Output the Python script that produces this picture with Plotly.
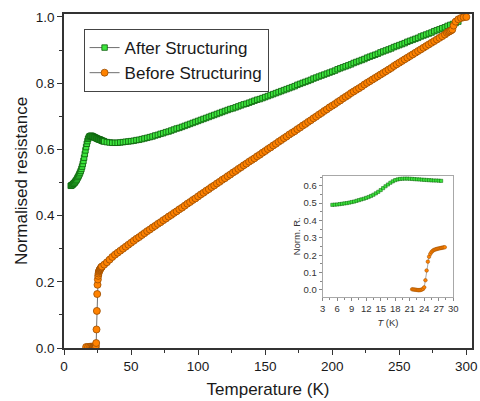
import plotly.graph_objects as go

# ---------------- data ----------------
# After Structuring: dense low-temperature part
after_T_low = [5.0, 5.5, 6.0, 6.5, 7.0, 7.5, 8.0, 8.5, 9.0, 9.5, 10.0, 10.5, 11.0, 11.5,
               12.0, 12.5, 13.0, 13.5, 14.0, 14.5, 15.0, 15.5, 16.0, 16.5, 17.0, 17.5,
               18.0, 18.5, 19.0, 19.5, 20.0, 20.5, 21.0, 21.5, 22.0, 22.5, 23.0, 23.5,
               24.0, 24.5, 25.0, 25.5, 26.0, 26.5, 27.0, 27.5, 28.0, 28.5, 29.0, 29.5]
after_R_low = [0.490, 0.491, 0.492, 0.494, 0.496, 0.498, 0.500, 0.503, 0.506, 0.509,
               0.513, 0.517, 0.521, 0.525, 0.530, 0.535, 0.541, 0.548, 0.556, 0.565,
               0.575, 0.586, 0.597, 0.607, 0.617, 0.625, 0.632, 0.636, 0.639, 0.640,
               0.641, 0.641, 0.640, 0.639, 0.638, 0.637, 0.636, 0.635, 0.634, 0.633,
               0.632, 0.631, 0.630, 0.630, 0.629, 0.628, 0.627, 0.626, 0.625, 0.625]
# After Structuring: 30 K - 294 K
after_T_high = [30, 32, 34, 36, 38, 40, 42, 44, 46, 48, 50, 52, 54, 56, 58, 60, 62, 64, 66, 68,
                70, 72, 74, 76, 78, 80, 82, 84, 86, 88, 90, 92, 94, 96, 98, 100, 102, 104, 106,
                108, 110, 112, 114, 116, 118, 120, 122, 124, 126, 128, 130, 132, 134, 136, 138,
                140, 142, 144, 146, 148, 150, 152, 154, 156, 158, 160, 162, 164, 166, 168, 170,
                172, 174, 176, 178, 180, 182, 184, 186, 188, 190, 192, 194, 196, 198, 200, 202,
                204, 206, 208, 210, 212, 214, 216, 218, 220, 222, 224, 226, 228, 230, 232, 234,
                236, 238, 240, 242, 244, 246, 248, 250, 252, 254, 256, 258, 260, 262, 264, 266,
                268, 270, 272, 274, 276, 278, 280, 282, 284, 286, 288, 290, 292, 294]
after_R_high = [0.624, 0.622, 0.621, 0.620, 0.620, 0.620, 0.621, 0.622, 0.623, 0.624,
                0.625, 0.626, 0.628, 0.629, 0.631, 0.633, 0.635, 0.637, 0.639, 0.642,
                0.644, 0.647, 0.649, 0.652, 0.654, 0.657, 0.660, 0.663, 0.665, 0.668,
                0.671, 0.674, 0.677, 0.680, 0.683, 0.686, 0.689, 0.692, 0.695, 0.698,
                0.701, 0.704, 0.707, 0.710, 0.713, 0.716, 0.719, 0.722, 0.724, 0.727,
                0.730, 0.733, 0.736, 0.738, 0.741, 0.744, 0.747, 0.750, 0.752, 0.755,
                0.758, 0.761, 0.764, 0.767, 0.770, 0.773, 0.776, 0.779, 0.782, 0.785,
                0.788, 0.791, 0.795, 0.798, 0.801, 0.804, 0.807, 0.810, 0.814, 0.817,
                0.820, 0.823, 0.826, 0.829, 0.832, 0.835, 0.838, 0.842, 0.845, 0.848,
                0.851, 0.854, 0.857, 0.861, 0.864, 0.867, 0.870, 0.873, 0.877, 0.880,
                0.883, 0.886, 0.889, 0.893, 0.896, 0.899, 0.902, 0.905, 0.909, 0.912,
                0.915, 0.918, 0.921, 0.925, 0.928, 0.931, 0.934, 0.937, 0.941, 0.944,
                0.947, 0.950, 0.953, 0.957, 0.960, 0.963, 0.966, 0.969, 0.973, 0.976,
                0.979, 0.982, 0.986]

# Before Structuring: low temperature (transition)
before_T_low = [16.5, 18.0, 19.5, 20.5, 21.5, 21.75, 22.0, 22.25, 22.5, 22.75, 23.0, 23.25,
                23.5, 23.75, 24.0, 24.25, 24.5, 24.75, 25.0, 25.25, 25.5, 25.75, 26.0,
                26.25, 26.5, 26.75, 27.0, 27.25, 27.5, 27.75, 28.0, 28.25]
before_R_low = [0.003, 0.003, 0.004, 0.004, 0.004, 0.003, 0.002, 0.001, 0.000, -0.001,
                -0.001, 0.000, 0.002, 0.006, 0.015, 0.056, 0.112, 0.163, 0.191, 0.207,
                0.218, 0.225, 0.230, 0.233, 0.235, 0.237, 0.239, 0.240, 0.242, 0.243,
                0.245, 0.246]
# Before Structuring: 30 K - 300 K
before_T_high = [30, 32, 34, 36, 38, 40, 42, 44, 46, 48, 50, 52, 54, 56, 58, 60, 62, 64, 66, 68,
                 70, 72, 74, 76, 78, 80, 82, 84, 86, 88, 90, 92, 94, 96, 98, 100, 102, 104, 106,
                 108, 110, 112, 114, 116, 118, 120, 122, 124, 126, 128, 130, 132, 134, 136, 138,
                 140, 142, 144, 146, 148, 150, 152, 154, 156, 158, 160, 162, 164, 166, 168, 170,
                 172, 174, 176, 178, 180, 182, 184, 186, 188, 190, 192, 194, 196, 198, 200, 202,
                 204, 206, 208, 210, 212, 214, 216, 218, 220, 222, 224, 226, 228, 230, 232, 234,
                 236, 238, 240, 242, 244, 246, 248, 250, 252, 254, 256, 258, 260, 262, 264, 266,
                 268, 270, 272, 274, 276, 278, 280, 282, 284, 285.5, 286.5, 287.5, 288.5, 289.5,
                 290.5, 292, 294, 296, 298, 300]
before_R_high = [0.252, 0.259, 0.267, 0.275, 0.282, 0.288, 0.294, 0.300, 0.306, 0.312,
                 0.318, 0.324, 0.330, 0.335, 0.341, 0.347, 0.353, 0.358, 0.364, 0.369,
                 0.375, 0.380, 0.386, 0.391, 0.397, 0.402, 0.408, 0.413, 0.419, 0.424,
                 0.430, 0.436, 0.441, 0.447, 0.452, 0.458, 0.464, 0.469, 0.475, 0.480,
                 0.486, 0.491, 0.497, 0.502, 0.508, 0.513, 0.519, 0.524, 0.530, 0.535,
                 0.541, 0.546, 0.552, 0.557, 0.563, 0.568, 0.573, 0.579, 0.584, 0.590,
                 0.595, 0.601, 0.606, 0.612, 0.617, 0.623, 0.628, 0.634, 0.639, 0.645,
                 0.650, 0.655, 0.661, 0.666, 0.672, 0.677, 0.683, 0.688, 0.694, 0.699,
                 0.705, 0.710, 0.716, 0.721, 0.727, 0.732, 0.737, 0.743, 0.748, 0.754,
                 0.759, 0.764, 0.770, 0.775, 0.780, 0.785, 0.790, 0.796, 0.801, 0.806,
                 0.811, 0.816, 0.821, 0.826, 0.831, 0.836, 0.841, 0.846, 0.852, 0.857,
                 0.862, 0.867, 0.872, 0.877, 0.882, 0.887, 0.892, 0.897, 0.902, 0.907,
                 0.912, 0.917, 0.922, 0.927, 0.932, 0.937, 0.942, 0.947, 0.952, 0.955,
                 0.957, 0.959, 0.962, 0.974, 0.986, 0.993, 0.997, 0.999, 1.000]

after_T = after_T_low + after_T_high
after_R = after_R_low + after_R_high
before_T = before_T_low + before_T_high
before_R = before_R_low + before_R_high

# inset subsets
inset_after = [(t, r) for t, r in zip(after_T_low, after_R_low) if t <= 27.6]
inset_before = [(t, r) for t, r in zip(before_T_low, before_R_low) if t >= 21.5]

x_ticks = [0, 50, 100, 150, 200, 250, 300]
y_ticks = [0.0, 0.2, 0.4, 0.6, 0.8, 1.0]
inset_x_ticks = [3, 6, 9, 12, 15, 18, 21, 24, 27, 30]
inset_y_ticks = [0.0, 0.1, 0.2, 0.3, 0.4, 0.5, 0.6]

GREEN_FILL = "#3ee63e"
GREEN_EDGE = "#0b5e0b"
ORANGE_FILL = "#ff8200"
ORANGE_EDGE = "#9a4c00"
LINE_GREY = "#6e6e6e"
FONT = "Liberation Sans, Arial, sans-serif"

fig = go.Figure()
fig.add_trace(go.Scatter(
    x=after_T, y=after_R, mode="lines+markers", name="After Structuring",
    line=dict(color=LINE_GREY, width=1),
    marker=dict(symbol="square", size=5.5, color=GREEN_FILL,
                line=dict(color=GREEN_EDGE, width=0.8)),
))
fig.add_trace(go.Scatter(
    x=before_T, y=before_R, mode="lines+markers", name="Before Structuring",
    line=dict(color=LINE_GREY, width=1),
    marker=dict(symbol="circle", size=7, color=ORANGE_FILL,
                line=dict(color=ORANGE_EDGE, width=0.8)),
))
# inset traces
fig.add_trace(go.Scatter(
    x=[p[0] for p in inset_after], y=[p[1] for p in inset_after], mode="lines+markers",
    xaxis="x2", yaxis="y2", showlegend=False,
    line=dict(color=LINE_GREY, width=0.6),
    marker=dict(symbol="square", size=3.2, color=GREEN_FILL,
                line=dict(color=GREEN_EDGE, width=0.5)),
))
fig.add_trace(go.Scatter(
    x=[p[0] for p in inset_before], y=[p[1] for p in inset_before], mode="lines+markers",
    xaxis="x2", yaxis="y2", showlegend=False,
    line=dict(color=LINE_GREY, width=0.6),
    marker=dict(symbol="circle", size=3.6, color=ORANGE_FILL,
                line=dict(color=ORANGE_EDGE, width=0.5)),
))

axis_common = dict(showline=True, mirror=True, linecolor="#333333", linewidth=1.5,
                   ticks="outside", ticklen=5, tickwidth=1.3, tickcolor="#333333",
                   showgrid=False, zeroline=False,
                   tickfont=dict(family=FONT, size=13.5, color="#1a1a1a"))

fig.update_layout(
    width=480, height=401,
    margin=dict(l=64, r=3, t=14, b=53),
    paper_bgcolor="white", plot_bgcolor="white",
    font=dict(family=FONT, color="#1a1a1a"),
    xaxis=dict(range=[0, 304.2], tickvals=x_ticks,
               minor=dict(ticks="outside", ticklen=3, tickwidth=1, tickcolor="#333333", dtick=25, tick0=0),
               title=dict(text="Temperature (K)", font=dict(family=FONT, size=17), standoff=10),
               **axis_common),
    yaxis=dict(range=[0, 1.009], tickvals=y_ticks, tickformat=".1f",
               minor=dict(ticks="outside", ticklen=3, tickwidth=1, tickcolor="#333333", dtick=0.1, tick0=0),
               title=dict(text="Normalised resistance", font=dict(family=FONT, size=17), standoff=4),
               **axis_common),
    xaxis2=dict(domain=[0.634, 0.954], anchor="y2", range=[3, 30], tickvals=inset_x_ticks,
                showline=True, mirror=True, linecolor="#a8a8a8", linewidth=1,
                ticks="outside", ticklen=3, tickwidth=1, tickcolor="#888888",
                minor=dict(ticks="outside", ticklen=2, tickcolor="#888888", dtick=1.5, tick0=0),
                showgrid=False, zeroline=False,
                tickfont=dict(family=FONT, size=9.5, color="#333333"),
                title=dict(text="<i>T</i> (K)", font=dict(family=FONT, size=9.5, color="#333333"), standoff=6)),
    yaxis2=dict(domain=[0.154, 0.515], anchor="x2", range=[-0.038, 0.656], tickvals=inset_y_ticks,
                tickformat=".1f",
                showline=True, mirror=True, linecolor="#a8a8a8", linewidth=1,
                ticks="outside", ticklen=3, tickwidth=1, tickcolor="#888888",
                minor=dict(ticks="outside", ticklen=2, tickcolor="#888888", dtick=0.05, tick0=0),
                showgrid=False, zeroline=False,
                tickfont=dict(family=FONT, size=9.5, color="#333333"),
                title=dict(text="Norm. R.", font=dict(family=FONT, size=9.5, color="#333333"), standoff=1)),
    legend=dict(x=0.048, y=0.955, xanchor="left", yanchor="top",
                bgcolor="white", bordercolor="#444444", borderwidth=1,
                font=dict(family=FONT, size=17, color="#1a1a1a"),
                tracegroupgap=0, itemwidth=30),
    showlegend=True,
)

fig.write_html("out.html")
